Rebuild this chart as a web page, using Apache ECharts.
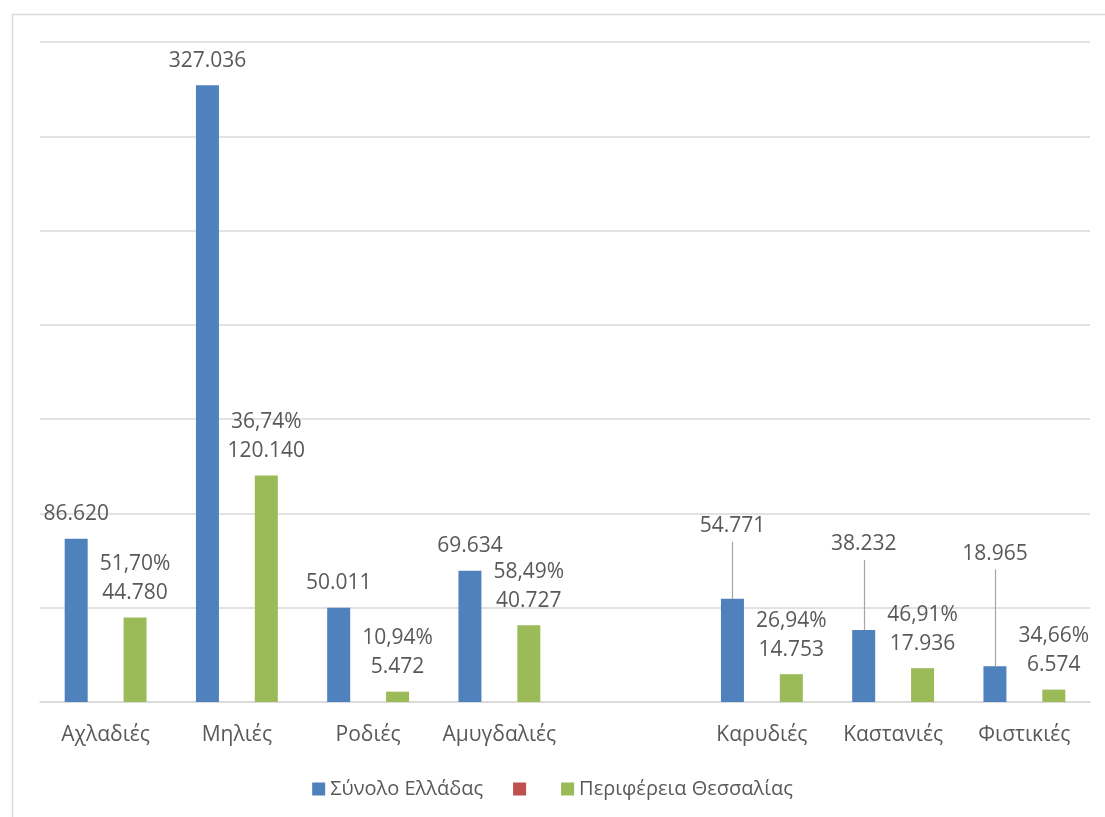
<!DOCTYPE html>
<html>
<head>
<meta charset="utf-8">
<script src="https://cdn.jsdelivr.net/npm/echarts@6/dist/echarts.min.js"></script>
<style>
  html, body { margin: 0; padding: 0; background: #ffffff; }
  #chart { width: 1105px; height: 817px; }
</style>
</head>
<body>
<div id="chart"></div>
<script>
// ---- data ----
const categories = ['Αχλαδιές', 'Μηλιές', 'Ροδιές', 'Αμυγδαλιές', '', 'Καρυδιές', 'Καστανιές', 'Φιστικιές'];
const greeceTotal = [86620, 327036, 50011, 69634, null, 54771, 38232, 18965];
const thessalyRegion = [44780, 120140, 5472, 40727, null, 14753, 17936, 6574];
const thessalyShare = ['51,70%', '36,74%', '10,94%', '58,49%', '', '26,94%', '46,91%', '34,66%'];
const seriesNames = ['Σύνολο Ελλάδας', '\u200b', 'Περιφέρεια Θεσσαλίας'];
const yMin = 0, yMax = 350000, yInterval = 50000;

// ---- style ----
const FONT = 'Open Sans';
const TEXT = '#595959';
const GRID_COLOR = '#d9d9d9';
const COLORS = ['#4f81bd', '#c0504d', '#9bbb59'];
const BAR_W = 23, BAR_GAP_PCT = 28;
const BLUE_SHIFT = (3 * BAR_W + 2 * BAR_W * BAR_GAP_PCT / 100) / 2 - BAR_W / 2;
const labelLift = { 5: 48, 6: 61, 7: 88 };   // pixel lift of moved labels
const LEADER_EXTRA = 9;

const fmt = v => String(v).replace(/\B(?=(\d{3})+(?!\d))/g, '.');

const blueData = greeceTotal.map((v, i) =>
  labelLift[i] ? { value: v, label: { offset: [0, -labelLift[i]] } } : v);

const leaderData = Object.keys(labelLift).map(k => [Number(k), greeceTotal[Number(k)], labelLift[k]]);

const labelBase = {
  show: true, position: 'top', distance: 10,
  fontFamily: FONT, fontSize: 21, color: TEXT, lineHeight: 29
};

const chart = echarts.init(document.getElementById('chart'), null, { renderer: 'canvas' });
chart.setOption({
  animation: false,
  backgroundColor: '#ffffff',
  textStyle: { fontFamily: FONT },
  graphic: [{
    type: 'rect', left: 10, top: 12, silent: true,
    shape: { width: 1200, height: 900 },
    style: { fill: 'none', stroke: GRID_COLOR, lineWidth: 1.5 }
  }],
  grid: { left: 40, right: 15, top: 42, bottom: 115, containLabel: false },
  legend: {
    data: seriesNames,
    left: 'center', top: 774,
    icon: 'rect', itemWidth: 13, itemHeight: 13, itemGap: 30,
    textStyle: { fontFamily: FONT, fontSize: 20, color: TEXT }
  },
  xAxis: {
    type: 'category', data: categories,
    axisLine: { show: true, lineStyle: { color: GRID_COLOR, width: 1.5 } },
    axisTick: { show: false },
    axisLabel: { fontFamily: FONT, fontSize: 21, color: TEXT, margin: 20, lineHeight: 26, interval: 0 }
  },
  yAxis: {
    type: 'value', min: yMin, max: yMax, interval: yInterval,
    axisLine: { show: false }, axisTick: { show: false }, axisLabel: { show: false },
    splitLine: { lineStyle: { color: GRID_COLOR, width: 1.5 } }
  },
  series: [
    {
      name: seriesNames[0], type: 'bar', data: blueData,
      barWidth: BAR_W, barGap: BAR_GAP_PCT + '%',
      itemStyle: { color: COLORS[0] },
      label: Object.assign({}, labelBase, { formatter: p => fmt(p.value) })
    },
    {
      name: seriesNames[1], type: 'bar', data: categories.map(() => null),
      barWidth: BAR_W, barGap: BAR_GAP_PCT + '%',
      itemStyle: { color: COLORS[1] }
    },
    {
      name: seriesNames[2], type: 'bar', data: thessalyRegion,
      barWidth: BAR_W, barGap: BAR_GAP_PCT + '%',
      itemStyle: { color: COLORS[2] },
      label: Object.assign({}, labelBase, {
        formatter: p => thessalyShare[p.dataIndex] + '\n' + fmt(p.value)
      })
    },
    {
      name: 'leader', type: 'custom', data: leaderData, silent: true, z: 1,
      encode: { x: 0, y: 1 },
      renderItem: (params, api) => {
        const p = api.coord([api.value(0), api.value(1)]);
        const x = Math.round(p[0] - BLUE_SHIFT) + 0.5;
        const len = api.value(2) + LEADER_EXTRA;
        return {
          type: 'line',
          shape: { x1: x, y1: p[1], x2: x, y2: p[1] - len },
          style: { stroke: '#a6a6a6', lineWidth: 1.2 }
        };
      }
    }
  ]
});
</script>
</body>
</html>
